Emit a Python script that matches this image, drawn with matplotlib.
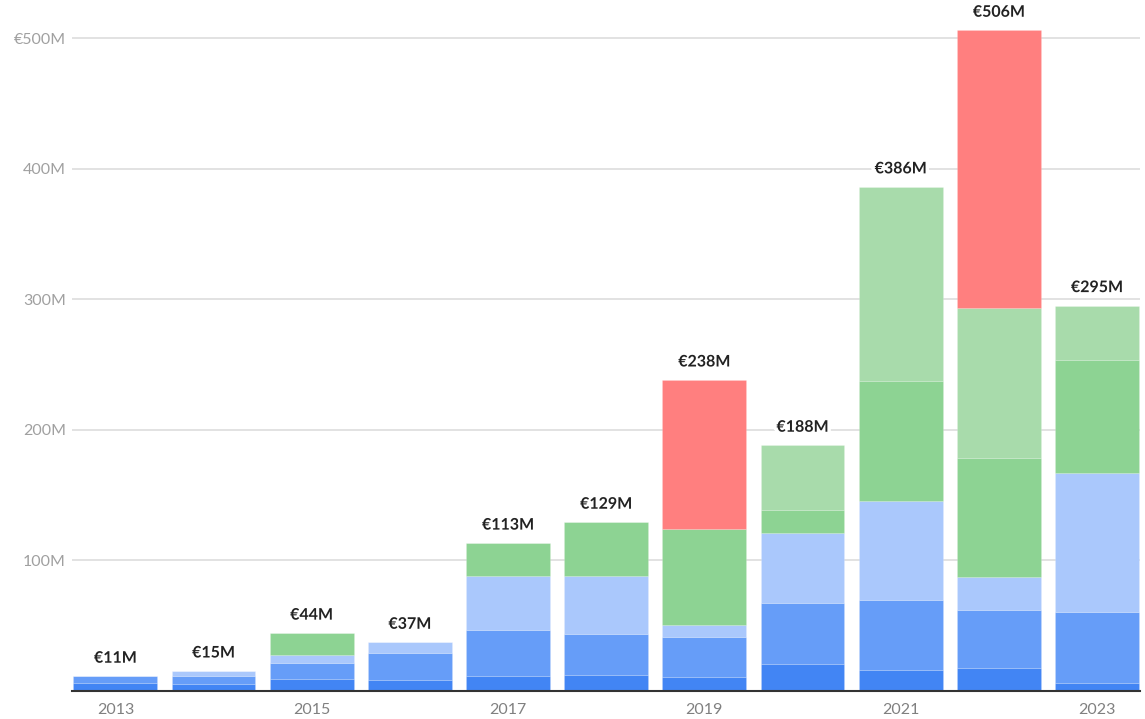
import matplotlib
matplotlib.use("Agg")
import matplotlib.pyplot as plt
import matplotlib.patheffects as pe
import numpy as np

years = ["2013", "2014", "2015", "2016", "2017", "2018", "2019", "2020", "2021", "2022", "2023"]
seg_dark_blue   = [6, 5, 9, 8, 11, 12, 10, 20, 16, 17, 6]
seg_mid_blue    = [5, 6, 12, 21, 35, 31, 31, 47, 53, 45, 54]
seg_light_blue  = [0, 4, 6, 8, 42, 45, 9, 54, 76, 25, 107]
seg_green       = [0, 0, 17, 0, 25, 41, 74, 17, 92, 91, 86]
seg_light_green = [0, 0, 0, 0, 0, 0, 0, 50, 149, 115, 42]
seg_red         = [0, 0, 0, 0, 0, 0, 114, 0, 0, 213, 0]
totals = ["€11M", "€15M", "€44M", "€37M", "€113M", "€129M", "€238M", "€188M", "€386M", "€506M", "€295M"]
ytick_vals = [100, 200, 300, 400, 500]
ytick_labels = ["100M", "200M", "300M", "400M", "€500M"]

series = [seg_dark_blue, seg_mid_blue, seg_light_blue, seg_green, seg_light_green, seg_red]
colors = ["#4285f4", "#669df8", "#aac8fc", "#8dd393", "#a8dbab", "#ff7f7f"]

plt.rcParams['font.family'] = ['Lato', 'DejaVu Sans']

fig = plt.figure(figsize=(11.45, 7.19), dpi=100)
ax = fig.add_axes([0.063, 0.0396, 0.9328, 0.9438])

x = np.arange(len(years))
bottom = np.zeros(len(years))
for vals, c in zip(series, colors):
    v = np.array(vals, dtype=float)
    ax.bar(x, v, bottom=bottom, width=0.855, color=c, edgecolor=(1, 1, 1, 0.18),
           linewidth=0.5, zorder=3)
    bottom += v

for xi, tot, lab in zip(x, bottom, totals):
    ax.text(xi, tot + 8, lab, ha="center", va="bottom", fontsize=11.5,
            fontweight="bold", color="#222222", zorder=5,
            path_effects=[pe.withStroke(linewidth=5, foreground="white")])

ax.set_xlim(-0.44, 10.44)
ax.set_ylim(0, 520)
ax.set_yticks(ytick_vals)
ax.set_yticklabels(ytick_labels)
ax.set_xticks(x[::2])
ax.set_xticklabels(years[::2])
ax.tick_params(axis="y", length=0, pad=4.5, labelsize=11.5, labelcolor="#a0a0a0")
ax.tick_params(axis="x", length=0, pad=9, labelsize=11.5, labelcolor="#808080")

ax.grid(axis="y", color="#dddddd", linewidth=1.2, zorder=0)
ax.set_axisbelow(True)
for s in ["top", "right", "left"]:
    ax.spines[s].set_visible(False)
ax.spines["bottom"].set_color("#333333")
ax.spines["bottom"].set_linewidth(1.5)
ax.spines["bottom"].set_zorder(4)

fig.savefig("out.png", dpi=100, facecolor="white")
